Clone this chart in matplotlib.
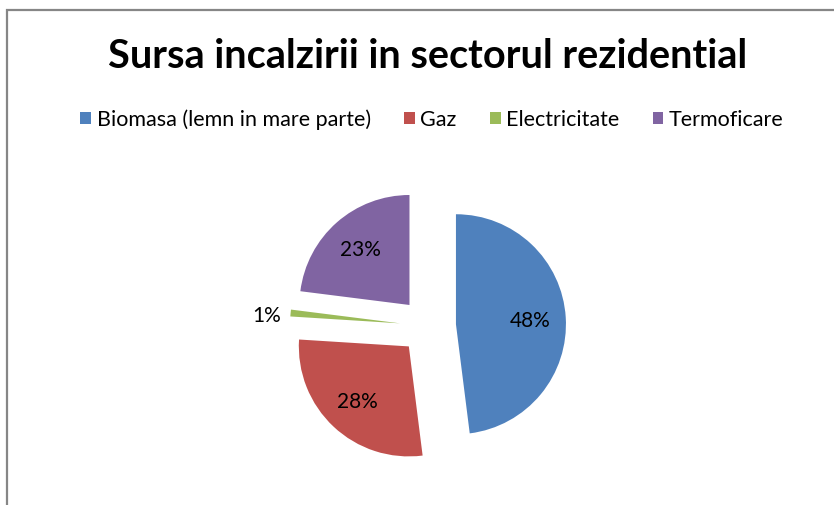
import matplotlib

matplotlib.use("Agg")
import matplotlib.pyplot as plt
from matplotlib.patches import Patch, Rectangle

plt.rcParams["font.family"] = ["Lato", "DejaVu Sans"]

title = "Sursa incalzirii in sectorul rezidential"
categories = ["Biomasa (lemn in mare parte)", "Gaz", "Electricitate", "Termoficare"]
shares = [48, 28, 1, 23]
colors = ["#4F81BD", "#C0504D", "#9BBB59", "#8064A2"]

W, H = 834, 506
fig = plt.figure(figsize=(W / 100, H / 100), dpi=100)
fig.patch.set_facecolor("white")

# pixel-space axes so the pie can be placed by its centre and radius
ax = fig.add_axes([0, 0, 1, 1])
wedges, texts, autotexts = ax.pie(
    shares,
    colors=colors,
    startangle=90,
    counterclock=False,
    radius=110,
    center=(428, H - 327),
    explode=[28] * len(shares),
    autopct="%.0f%%",
    pctdistance=0.68,
    textprops={"fontsize": 15, "color": "black"},
    wedgeprops={"linewidth": 0},
)
ax.set_xlim(0, W)
ax.set_ylim(0, H)
ax.set_aspect("equal")
ax.axis("off")

# the thin slice gets its label outside the pie
autotexts[2].set_position((267, H - 316))

# chart-area border, running off the right and bottom edges
fig.add_artist(Rectangle((6.5 / W, -0.1), 1.2, 1 - 11 / H + 0.1,
                         transform=fig.transFigure, fill=False,
                         edgecolor="#868686", linewidth=1.6))

fig.text(428 / W, 1 - 57 / H, title, ha="center", va="center",
         fontsize=28.5, fontweight="bold")

handles = [Patch(facecolor=c, edgecolor="none") for c in colors]
fig.legend(handles, categories, loc="center", bbox_to_anchor=(432 / W, 1 - 120 / H),
           ncol=4, frameon=False, fontsize=15.5, handlelength=0.5, handleheight=0.5,
           handletextpad=0.25, columnspacing=1.55)

fig.savefig("out.png", dpi=100)
